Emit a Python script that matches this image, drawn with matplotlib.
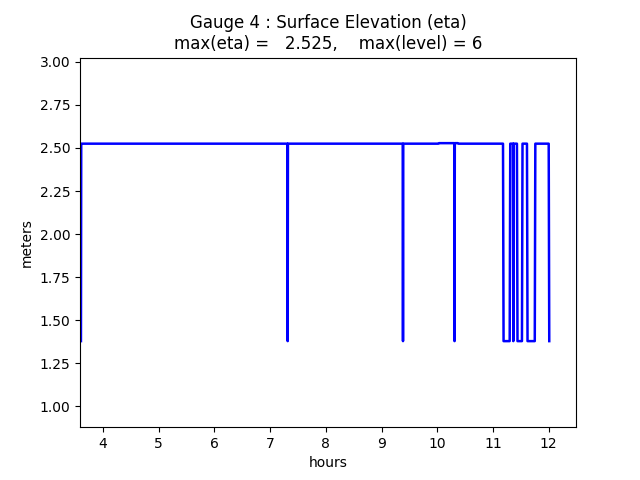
import matplotlib
matplotlib.use('Agg')
import matplotlib.pyplot as plt

# gauge 4 time series (hours, meters)
t_hours = [3.605, 3.61, 3.62, 7.31, 7.315, 7.32, 9.38, 9.385, 9.39,
           10.02, 10.03, 10.305, 10.31, 10.315, 10.37, 10.38,
           11.18, 11.19, 11.30, 11.31, 11.36, 11.365, 11.37,
           11.43, 11.44, 11.52, 11.53, 11.61, 11.62, 11.75, 11.76,
           12.00, 12.01]
eta = [1.378, 2.525, 2.525, 2.525, 1.378, 2.525, 2.525, 1.378, 2.525,
       2.525, 2.528, 2.528, 1.378, 2.528, 2.528, 2.525,
       2.525, 1.378, 1.378, 2.525, 2.525, 1.378, 2.525,
       2.525, 1.378, 1.378, 2.525, 2.525, 1.378, 1.378, 2.525,
       2.525, 1.378]
eta_max = 2.525
max_level = 6

fig = plt.figure(figsize=(6.4, 4.8), dpi=100)
ax = fig.add_subplot(111)
ax.plot(t_hours, eta, 'b-', linewidth=1.8)

ax.set_ylim(min(eta) - 0.5, eta_max + 0.5)
ax.set_xlim(3.588, 12.49)
ax.set_xlabel('hours')
ax.set_ylabel('meters')
ax.set_title('Gauge 4 : Surface Elevation (eta)\nmax(eta) = %7.3f,    max(level) = %d'
             % (eta_max, max_level))

fig.savefig('out.png')
